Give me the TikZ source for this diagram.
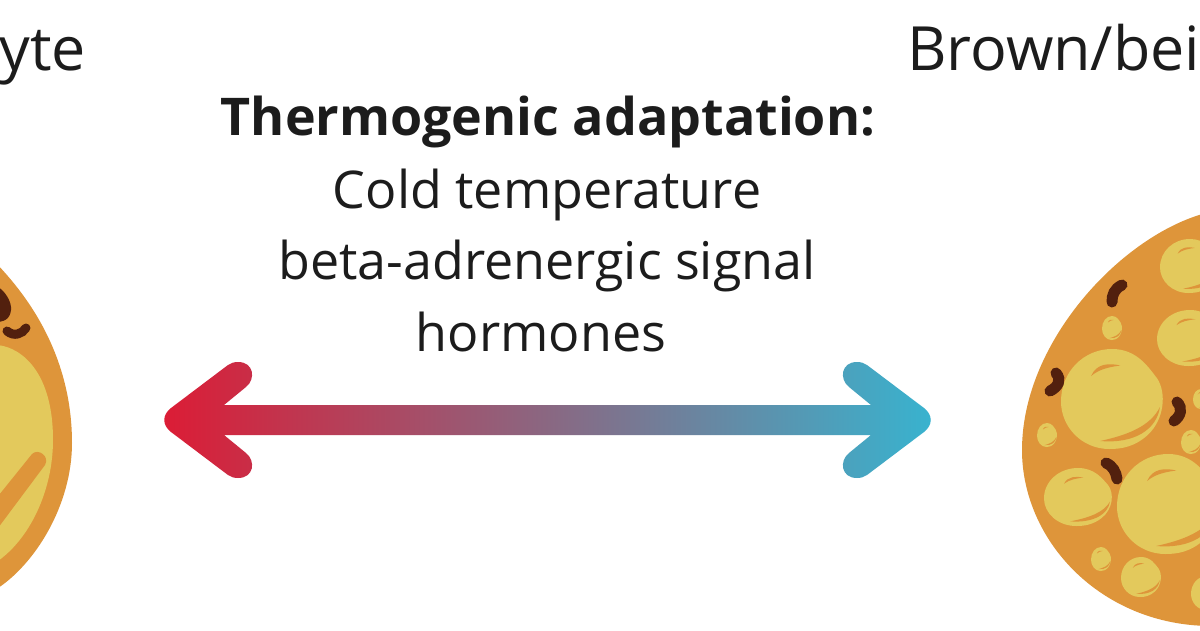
\documentclass[tikz,border=0pt]{standalone}
\usepackage{fontspec}
\setmainfont{Open Sans}
\definecolor{membrane}{HTML}{DE953A}
\definecolor{lipid}{HTML}{E3C95C}
\definecolor{organelle}{HTML}{52200E}
\definecolor{inkdark}{HTML}{1C1C1C}
\definecolor{arrowred}{HTML}{DC1C35}
\definecolor{arrowblue}{HTML}{38B3CF}
\tikzset{
  caption/.style={font=\fontsize{52}{56}\selectfont, text=inkdark, anchor=base, inner sep=0pt},
  heading/.style={font=\fontsize{61}{65}\selectfont, text=inkdark, anchor=base, inner sep=0pt},
  mito/.style={draw=organelle, line width=11pt, line cap=round},
}
% lipid droplet with its upper gleam and lower crescent
\newcommand{\droplet}[4]{%
  \begin{scope}[shift={(#1,#2)}, x={(#3pt,0pt)}, y={(0pt,-#4pt)}]
    \fill[lipid] (0,-1) .. controls (0.5,-1) and (0.72,-0.62) .. (0.88,-0.42)
      .. controls (1.08,-0.12) and (1.02,0.42) .. (0.7,0.72)
      .. controls (0.45,0.95) and (0.2,1) .. (-0.05,1)
      .. controls (-0.6,1) and (-1,0.55) .. (-1,0.05)
      .. controls (-1,-0.55) and (-0.55,-1) .. (0,-1) -- cycle;
    \fill[membrane] (-0.41,-0.46) .. controls (-0.3,-0.72) and (-0.05,-0.72) .. (0.16,-0.67)
      .. controls (-0.05,-0.64) and (-0.25,-0.6) .. (-0.41,-0.46) -- cycle;
    \fill[membrane] (-0.23,0.84) .. controls (0.3,0.72) and (0.75,0.55) .. (0.94,0.16)
      .. controls (0.88,0.6) and (0.45,0.9) .. (-0.23,0.84) -- cycle;
  \end{scope}}
\begin{document}
\begin{tikzpicture}[x=1pt, y=-1pt]
\useasboundingbox (0,0) rectangle (1200,630);
\fill[white] (0,0) rectangle (1200,630);
\clip (0,0) rectangle (1200,630);

% cell cropped at the left edge
\fill[membrane] (-5,262) .. controls (22,290) and (72,350) .. (72,443)
  .. controls (72,505) and (35,565) .. (-5,590) -- cycle;
\fill[lipid] (-5,345) .. controls (15,345) and (53,365) .. (53,440)
  .. controls (53,490) and (30,540) .. (-5,563) -- cycle;
\fill[membrane] (-5,500) -- (32,454) .. controls (38,448) and (50,456) .. (45,465)
  -- (-5,532) -- cycle;
\fill[organelle] (-5,285) .. controls (5,290) and (12,302) .. (11,310)
  .. controls (10,320) and (3,322) .. (-5,322) -- cycle;
\draw[mito, line width=9pt] (7,331) .. controls (14,337) and (22,334) .. (26,328);

% cell cropped at the right edge
\fill[membrane] (1210,212) .. controls (1125,232) and (1022,340) .. (1022,450)
  .. controls (1022,540) and (1100,625) .. (1210,626) -- cycle;
\droplet{1112}{399}{51}{50}
\droplet{1168}{504}{51}{50}
\droplet{1078}{497}{34}{29}
\droplet{1190}{266}{30}{27}
\droplet{1190}{338}{33}{28}
\droplet{1112}{328}{10}{12}
\droplet{1047}{435}{10}{12}
\droplet{1101}{559}{10}{12}
\droplet{1141}{577}{20}{20}
\droplet{1191}{442}{10}{12}
\droplet{1201}{399}{8}{10}
\droplet{1207}{593}{16}{17}
\draw[mito] (1122,285) .. controls (1114,289) and (1112,295) .. (1112,302);
\draw[mito] (1056,373) .. controls (1062,380) and (1058,387) .. (1050,391);
\draw[mito] (1177,402) .. controls (1183,408) and (1181,416) .. (1174,421);
\draw[mito] (1106,463) .. controls (1113,466) and (1116,472) .. (1117,479);

% double-headed arrow with a red to blue gradient
\path[left color=arrowred, right color=arrowblue]
  (224,405) -- (871,405) -- (849,387)
  .. controls (839,379) and (841,362) .. (857,362)
  .. controls (861,362) and (864,363) .. (867,365)
  -- (924,408) .. controls (933,415) and (933,425) .. (924,432)
  -- (867,475) .. controls (864,477) and (861,478) .. (857,478)
  .. controls (841,478) and (839,461) .. (849,453)
  -- (871,435) -- (224,435) -- (246,453)
  .. controls (256,461) and (254,478) .. (238,478)
  .. controls (234,478) and (231,477) .. (228,475)
  -- (171,432) .. controls (162,425) and (162,415) .. (171,408)
  -- (228,365) .. controls (231,363) and (234,362) .. (238,362)
  .. controls (254,362) and (256,379) .. (246,387)
  -- cycle;

% labels
\node[heading, anchor=base east] (leftlabel) at (86,70) {yte};
\node[heading, anchor=base west] (rightlabel) at (907,70) {Brown/bei};
\node[caption, font=\fontsize{52}{56}\selectfont\bfseries] (title) at (548,135) {Thermogenic adaptation:};
\node[caption] (cold) at (547,208) {Cold temperature};
\node[caption] (beta) at (547,279) {beta-adrenergic signal};
\node[caption] (horm) at (541,351) {hormones};
\end{tikzpicture}
\end{document}
